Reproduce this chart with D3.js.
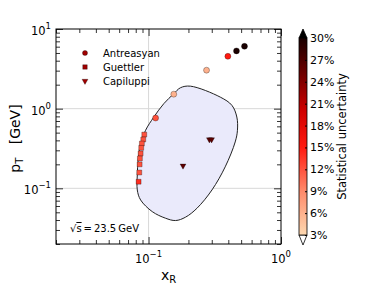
<!doctype html>
<html>
<head>
<meta charset="UTF-8" />
<script src="https://d3js.org/d3.v7.min.js"></script>
<style>
  body { margin: 0; background: #fff; }
  svg text { font-family: "DejaVu Sans", sans-serif; fill: #000; }
</style>
</head>
<body>
<svg id="chart" width="374" height="288"></svg>
<script>
// Antreasyan (circles)
const antX = [0.113, 0.155, 0.274, 0.397, 0.461, 0.53];
const antPt = [0.763, 1.52, 3.04, 4.54, 5.31, 6.06];
const antErr = [12, 6, 6, 15, 31, 31];

// Guettler (squares)
const gueX = [0.0928, 0.0912, 0.089, 0.088, 0.0871, 0.086, 0.0856, 0.0851, 0.0841];
const guePt = [0.473, 0.41, 0.365, 0.322, 0.274, 0.237, 0.2, 0.158, 0.121];
const gueErr = [12, 12, 12, 12, 12, 12, 12, 12, 14];

// Capiluppi (triangles)
const capX = [0.182, 0.288, 0.299];
const capPt = [0.192, 0.41, 0.41];
const capErr = [26, 26, 26];

// acceptance contour (x_R, p_T)
const contourX = [0.207, 0.348, 0.426, 0.464, 0.469, 0.451, 0.379, 0.301, 0.232, 0.19, 0.16, 0.134, 0.1066, 0.0871, 0.0822, 0.0822, 0.0834, 0.0871, 0.0949, 0.1096, 0.1303, 0.155, 0.174];
const contourPt = [1.916, 1.396, 1.10, 0.785, 0.535, 0.382, 0.186, 0.0953, 0.0562, 0.0434, 0.0394, 0.0422, 0.051, 0.0714, 0.0953, 0.1467, 0.226, 0.365, 0.535, 0.785, 1.155, 1.54, 1.83];

const cbTicks = [3, 6, 9, 12, 15, 18, 21, 24, 27, 30];
const cmapVals = [3, 9, 15, 20, 25, 30];
const cmapCols = ["#fdd8b0", "#ff8a6a", "#ff1a10", "#d00000", "#700000", "#1a0000"];

const legendNames = ["Antreasyan", "Guettler", "Capiluppi"];

const svg = d3.select("#chart");
const L = 56, R = 281, T = 29, B = 244;

const x = d3.scaleLog().domain([0.02, 1]).range([L, R]);
const y = d3.scaleLog().domain([0.02, 10]).range([B, T]);
const color = d3.scaleLinear().domain(cmapVals).range(cmapCols).clamp(true);

// grid
const grid = svg.append("g").attr("stroke", "#d8d8d8").attr("stroke-width", 1);
[0.1].forEach(v => grid.append("line").attr("x1", x(v)).attr("x2", x(v)).attr("y1", T).attr("y2", B));
[0.1, 1].forEach(v => grid.append("line").attr("x1", L).attr("x2", R).attr("y1", y(v)).attr("y2", y(v)));

// contour
const line = d3.line().x(d => x(d[0])).y(d => y(d[1])).curve(d3.curveCatmullRomClosed.alpha(0.5));
svg.append("path")
  .datum(contourX.map((v, i) => [v, contourPt[i]]))
  .attr("d", line)
  .attr("fill", "#eaeafb")
  .attr("stroke", "#222")
  .attr("stroke-width", 1);

// minor / major ticks
function minors(lo, hi) {
  const out = [];
  for (let e = -2; e <= 1; e++) for (let m = 2; m <= 9; m++) {
    const v = m * Math.pow(10, e);
    if (v > lo * 0.999 && v < hi * 1.001) out.push(v);
  }
  return out;
}
const xMaj = [0.1, 1], yMaj = [0.1, 1, 10];
const axes = svg.append("g");
axes.append("g").attr("transform", `translate(0,${B})`).call(d3.axisBottom(x).tickValues(xMaj).tickSize(-7).tickFormat(""));
axes.append("g").attr("transform", `translate(0,${B})`).call(d3.axisBottom(x).tickValues(minors(0.02, 1)).tickSize(-4).tickFormat(""));
axes.append("g").attr("transform", `translate(0,${T})`).call(d3.axisTop(x).tickValues(xMaj).tickSize(-7).tickFormat(""));
axes.append("g").attr("transform", `translate(0,${T})`).call(d3.axisTop(x).tickValues(minors(0.02, 1)).tickSize(-4).tickFormat(""));
axes.append("g").attr("transform", `translate(${L},0)`).call(d3.axisLeft(y).tickValues(yMaj).tickSize(-7).tickFormat(""));
axes.append("g").attr("transform", `translate(${L},0)`).call(d3.axisLeft(y).tickValues(minors(0.02, 10)).tickSize(-4).tickFormat(""));
axes.append("g").attr("transform", `translate(${R},0)`).call(d3.axisRight(y).tickValues(yMaj).tickSize(-7).tickFormat(""));
axes.append("g").attr("transform", `translate(${R},0)`).call(d3.axisRight(y).tickValues(minors(0.02, 10)).tickSize(-4).tickFormat(""));
axes.selectAll(".domain").remove();
axes.selectAll("line").attr("stroke", "#000").attr("stroke-width", 0.8);
svg.append("rect").attr("x", L).attr("y", T).attr("width", R - L).attr("height", B - T)
  .attr("fill", "none").attr("stroke", "#000").attr("stroke-width", 1);

// tick labels
function powLabel(g, px, py, exp, anchor) {
  const t = g.append("text").attr("x", px).attr("y", py).attr("text-anchor", anchor).style("font-size", "11.5px");
  t.append("tspan").text("10");
  t.append("tspan").attr("dy", -6).style("font-size", "8.5px").text(exp);
}
xMaj.forEach(v => powLabel(svg, x(v), 263, Math.round(Math.log10(v)) < 0 ? "\u22121" : "0", "middle"));
yMaj.forEach(v => {
  const e = Math.round(Math.log10(v));
  powLabel(svg, 51, y(v) + 6, e < 0 ? "\u22121" : String(e), "end");
});

// axis labels
const xl = svg.append("text").attr("x", (L + R) / 2).attr("y", 280).attr("text-anchor", "middle").style("font-size", "14px");
xl.append("tspan").text("x");
xl.append("tspan").attr("dy", 3).style("font-size", "10px").text("R");
const yl = svg.append("text").attr("transform", `translate(20,${(T + B) / 2 + 2}) rotate(-90)`).attr("text-anchor", "middle").style("font-size", "14px");
yl.append("tspan").text("p");
yl.append("tspan").attr("dy", 3).style("font-size", "10px").text("T");
yl.append("tspan").attr("dy", -3).text("\u00a0\u00a0\u00a0[GeV]");

// points
const sym = {
  circle: d3.symbol(d3.symbolCircle, 28),
  square: d3.symbol(d3.symbolSquare, 24),
  tri: d3.symbol(d3.symbolTriangle, 15)
};
function drawSeries(xs, ps, es, s, rot) {
  svg.append("g").selectAll("path")
    .data(xs.map((v, i) => ({ x: v, p: ps[i], e: es[i] })))
    .join("path")
    .attr("d", s)
    .attr("transform", d => `translate(${x(d.x)},${y(d.p)}) rotate(${rot})`)
    .attr("fill", d => color(d.e))
    .attr("stroke", "#000")
    .attr("stroke-width", 0.3);
}
drawSeries(gueX, guePt, gueErr, sym.square, 0);
drawSeries(capX, capPt, capErr, sym.tri, 180);
drawSeries(antX, antPt, antErr, sym.circle, 0);

// legend
const leg = svg.append("g").style("font-size", "10px");
const legSyms = [d3.symbol(d3.symbolCircle, 20), d3.symbol(d3.symbolSquare, 20), d3.symbol(d3.symbolTriangle, 15)];
legendNames.forEach((n, i) => {
  const ly = 53 + i * 14;
  leg.append("path").attr("d", legSyms[i]).attr("transform", `translate(85,${ly}) rotate(${i === 2 ? 180 : 0})`)
    .attr("fill", "#a00000").attr("stroke", "#000").attr("stroke-width", 0.3);
  leg.append("text").attr("x", 103).attr("y", ly + 3.5).text(n);
});

// sqrt(s) annotation
const ann = svg.append("text").attr("x", 70).attr("y", 232).style("font-size", "10px");
ann.append("tspan").text("\u221a");
ann.append("tspan").style("text-decoration", "overline").text("s");
ann.append("tspan").text("\u2009=\u200923.5\u2009GeV");

// colorbar
const cb = d3.scaleLinear().domain([3, 30]).range([235, 38]);
const cbX = 299, cbW = 8;
const grad = svg.append("defs").append("linearGradient").attr("id", "cbg")
  .attr("x1", 0).attr("y1", 1).attr("x2", 0).attr("y2", 0);
cmapVals.forEach(v => grad.append("stop").attr("offset", (v - 3) / 27).attr("stop-color", color(v)));
svg.append("path").attr("d", `M${cbX},${cb(30)}L${cbX + cbW / 2},${cb(30) - 9}L${cbX + cbW},${cb(30)}Z`)
  .attr("fill", "#000").attr("stroke", "#000").attr("stroke-width", 0.8);
svg.append("path").attr("d", `M${cbX},${cb(3)}L${cbX + cbW / 2},${cb(3) + 10}L${cbX + cbW},${cb(3)}Z`)
  .attr("fill", "#fff").attr("stroke", "#000").attr("stroke-width", 0.8);
svg.append("rect").attr("x", cbX).attr("y", cb(30)).attr("width", cbW).attr("height", cb(3) - cb(30))
  .attr("fill", "url(#cbg)").attr("stroke", "#000").attr("stroke-width", 0.8);
const cbAxis = svg.append("g").attr("transform", `translate(${cbX + cbW},0)`)
  .call(d3.axisRight(cb).tickValues(cbTicks).tickSize(-2).tickPadding(3).tickFormat(d => d + "%"));
cbAxis.select(".domain").remove();
cbAxis.selectAll("line").attr("stroke", "#000");
cbAxis.selectAll("text").style("font-size", "11px").attr("font-family", "DejaVu Sans");
svg.append("text").attr("transform", `translate(346,${cb(16.5)}) rotate(-90)`).attr("text-anchor", "middle")
  .style("font-size", "11.5px").text("Statistical uncertainty");
</script>
</body>
</html>
